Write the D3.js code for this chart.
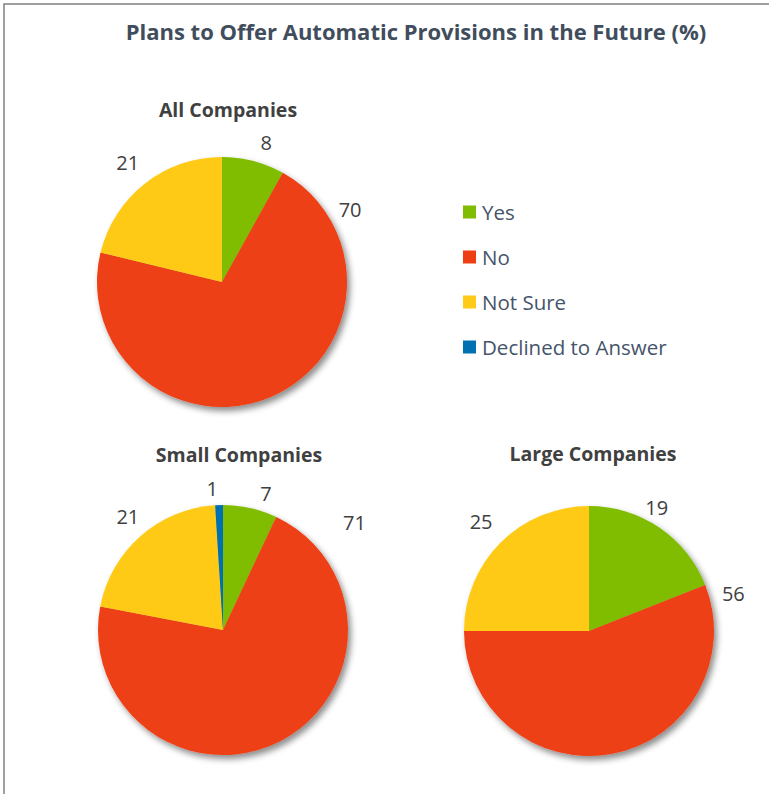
<!DOCTYPE html>
<html><head><meta charset="utf-8">
<script src="https://cdn.jsdelivr.net/npm/d3@7"></script>
<style>html,body{margin:0;padding:0;background:#fff;}</style>
</head><body>
<script>
const categories = ["Yes", "No", "Not Sure", "Declined to Answer"];
const chartTitles = ["All Companies", "Small Companies", "Large Companies"];
const allValues = [8, 70, 21, 0];
const smallValues = [7, 71, 21, 1];
const largeValues = [19, 56, 25, 0];
const colors = ["#80BC00", "#EE3F14", "#FFCA18", "#0070B0"];

const W = 769, H = 794;
const svg = d3.select("body").append("svg").attr("width", W).attr("height", H);
const defs = svg.append("defs");
const f = defs.append("filter").attr("id", "sh").attr("x", "-20%").attr("y", "-20%").attr("width", "150%").attr("height", "150%");
f.append("feDropShadow").attr("dx", 3).attr("dy", 4).attr("stdDeviation", 3).attr("flood-color", "#000").attr("flood-opacity", 0.45);

svg.append("rect").attr("x", 4).attr("y", 4).attr("width", W + 10).attr("height", H + 10)
  .attr("fill", "#fff").attr("stroke", "#808080").attr("stroke-width", 1.5);

svg.append("text").attr("x", 416).attr("y", 40).attr("text-anchor", "middle")
  .attr("font-family", "Open Sans").attr("font-weight", "bold").attr("font-size", 22)
  .attr("fill", "#3F4D5C").text("Plans to Offer Automatic Provisions in the Future (%)");

const color = d3.scaleOrdinal().domain(categories).range(colors);
const R = 125;
const pie = d3.pie().sort(null).value(d => d.v);
const arc = d3.arc().innerRadius(0).outerRadius(R);

// label angle (deg) and radius per slice, per chart
const panels = [
  {values: allValues, cx: 222, cy: 282, title: chartTitles[0], tx: 228, ty: 117,
   lab: [[17.6, 146], [60.6, 147], [-38.3, 152], null]},
  {values: smallValues, cx: 223, cy: 630, title: chartTitles[1], tx: 239, ty: 462,
   lab: [[17.5, 143], [50.7, 170], [-40, 148], [-4.4, 142]]},
  {values: largeValues, cx: 589, cy: 631, title: chartTitles[2], tx: 593, ty: 461,
   lab: [[28.7, 141], [75.6, 149], [-44.5, 154], null]}
];

panels.forEach(p => {
  const data = categories.map((c, i) => ({c, v: p.values[i], i}));
  const g = svg.append("g").attr("transform", `translate(${p.cx},${p.cy})`);
  const arcs = pie(data);
  g.append("g").attr("filter", "url(#sh)").selectAll("path").data(arcs.filter(a => a.data.v > 0))
    .join("path").attr("d", arc).attr("fill", d => color(d.data.c));
  arcs.forEach((a, k) => {
    const L = p.lab[k];
    if (!L || a.data.v <= 0) return;
    const ang = L[0] * Math.PI / 180;
    g.append("text").attr("x", Math.sin(ang) * L[1]).attr("y", -Math.cos(ang) * L[1])
      .attr("text-anchor", "middle").attr("dominant-baseline", "central")
      .attr("font-family", "Open Sans").attr("font-size", 20).attr("fill", "#404040")
      .text(a.data.v);
  });
  svg.append("text").attr("x", p.tx).attr("y", p.ty).attr("text-anchor", "middle")
    .attr("font-family", "Open Sans").attr("font-weight", "bold").attr("font-size", 19.5)
    .attr("fill", "#404040").text(p.title);
});

const legend = svg.append("g");
const ly = d3.scalePoint().domain(categories).range([212, 347]);
categories.forEach(c => {
  legend.append("rect").attr("x", 463).attr("y", ly(c) - 6.5).attr("width", 13).attr("height", 13).attr("fill", color(c));
  legend.append("text").attr("x", 482).attr("y", ly(c)).attr("dominant-baseline", "central")
    .attr("font-family", "Open Sans").attr("font-size", 20.5).attr("fill", "#44546A").text(c);
});
</script>
</body></html>
